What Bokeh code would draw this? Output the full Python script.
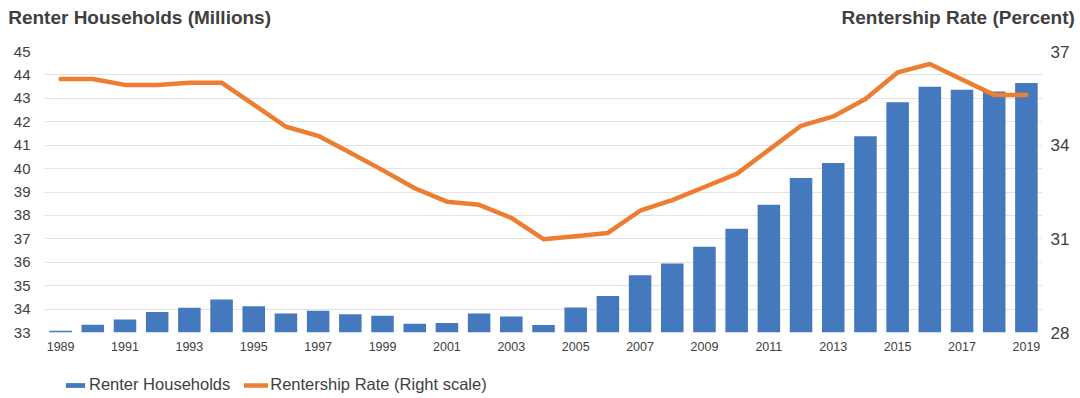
from bokeh.plotting import figure
from bokeh.layouts import column
from bokeh.models import (Range1d, LinearAxis, FixedTicker, Legend, LegendItem,
                          ColumnDataSource)
from bokeh.embed import file_html
from bokeh.resources import INLINE

years = list(range(1989, 2020))
households = [33.07, 33.33, 33.56, 33.88, 34.06, 34.41, 34.12, 33.81, 33.93, 33.78,
              33.71, 33.37, 33.41, 33.81, 33.68, 33.32, 34.07, 34.56, 35.45, 35.95,
              36.66, 37.43, 38.46, 39.60, 40.24, 41.38, 42.83, 43.50, 43.37, 43.29, 43.66]
rate = [36.12, 36.12, 35.93, 35.93, 36.00, 36.00, 35.30, 34.59, 34.30, 33.76,
        33.20, 32.62, 32.19, 32.09, 31.67, 30.99, 31.08, 31.19, 31.90, 32.24,
        32.66, 33.08, 33.85, 34.62, 34.92, 35.48, 36.33, 36.60, 36.10, 35.61, 35.61]
left_ticks = list(range(33, 46))
right_ticks = [28, 31, 34, 37]
year_ticks = list(range(1989, 2020, 2))
left_title = "Renter Households (Millions)"
right_title = "Rentership Rate (Percent)"
series_names = ["Renter Households", "Rentership Rate (Right scale)"]

BLUE = "#4479BE"
ORANGE = "#ED7D31"
TXT = "#404040"
FONT = "Liberation Sans"

src = ColumnDataSource(dict(year=years, hh=households, rate=rate))

p = figure(width=1080, height=362, output_backend="svg", toolbar_location=None,
           x_range=Range1d(1988.5, 2019.5), y_range=Range1d(33, 45),
           min_border_left=44, min_border_right=38, min_border_top=51, min_border_bottom=30,
           outline_line_color=None, background_fill_color="white", border_fill_color="white")
p.extra_y_ranges = {"right": Range1d(28, 37)}

bars = p.vbar(x="year", top="hh", bottom=33, width=0.70, source=src,
              fill_color=BLUE, line_color=None)
line = p.line(x="year", y="rate", source=src, y_range_name="right",
              line_color=ORANGE, line_width=4.5, line_cap="round", line_join="round")

# main x axis (below)
xax = p.xaxis[0]
xax.ticker = FixedTicker(ticks=year_ticks)
xax.axis_line_color = None
xax.major_tick_line_color = None
xax.minor_tick_line_color = None
xax.major_tick_out = 0
xax.major_label_text_font = FONT
xax.major_label_text_font_size = "12.5px"
xax.major_label_text_color = TXT
xax.major_label_standoff = 9

# left y axis
yax = p.yaxis[0]
yax.ticker = FixedTicker(ticks=left_ticks)
yax.axis_line_color = None
yax.major_tick_line_color = None
yax.minor_tick_line_color = None
yax.major_tick_out = 0
yax.major_label_text_font = FONT
yax.major_label_text_font_size = "15px"
yax.major_label_text_color = TXT
yax.major_label_standoff = 14

# right y axis
raxis = LinearAxis(y_range_name="right", ticker=FixedTicker(ticks=right_ticks),
                   axis_line_color=None, major_tick_line_color=None,
                   minor_tick_line_color=None, major_tick_out=0,
                   major_label_text_font=FONT, major_label_text_font_size="17px",
                   major_label_text_color=TXT, major_label_standoff=8)
p.add_layout(raxis, "right")

# axis titles drawn as labels of a bare top axis (left and right headings)
tpos = [1991.454, 2016.88]
taxis = LinearAxis(ticker=FixedTicker(ticks=tpos),
                   major_label_overrides={tpos[0]: left_title, tpos[1]: right_title},
                   axis_line_color=None, major_tick_line_color=None,
                   minor_tick_line_color=None, major_tick_out=0,
                   major_label_text_font=FONT, major_label_text_font_size="19px",
                   major_label_text_font_style="bold",
                   major_label_text_color=TXT, major_label_standoff=24)
p.add_layout(taxis, "above")

p.xgrid.grid_line_color = None
p.ygrid.ticker = FixedTicker(ticks=left_ticks)
p.ygrid.grid_line_color = "#E3E3E3"
p.ygrid.grid_line_width = 1

# legend strip below the chart (sample glyphs sit outside its visible range)
pl = figure(width=1080, height=36, output_backend="svg", toolbar_location=None,
            x_range=Range1d(0, 1), y_range=Range1d(0, 1),
            x_axis_type=None, y_axis_type=None,
            min_border_left=0, min_border_right=0, min_border_top=0, min_border_bottom=0,
            outline_line_color=None, background_fill_color="white", border_fill_color="white")
pl.xgrid.visible = False
pl.ygrid.visible = False
lb = pl.vbar(x=[-10], top=[-10], bottom=-11, width=0.5, fill_color=BLUE, line_color=None)
ll = pl.line(x=[-10, -9], y=[-10, -10], line_color=ORANGE, line_width=4.5, line_cap="round")
legend = Legend(items=[LegendItem(label=series_names[0], renderers=[lb]),
                       LegendItem(label=series_names[1], renderers=[ll])],
                orientation="horizontal", location=(19, 4),
                glyph_width=24, glyph_height=6, label_standoff=2, spacing=14,
                padding=0, margin=0, border_line_color=None, background_fill_alpha=0,
                label_text_font=FONT, label_text_font_size="16.5px", label_text_color=TXT,
                label_height=16)
pl.add_layout(legend, "center")

layout = column(p, pl, spacing=0)
open("out.html", "w").write(file_html(layout, INLINE))
